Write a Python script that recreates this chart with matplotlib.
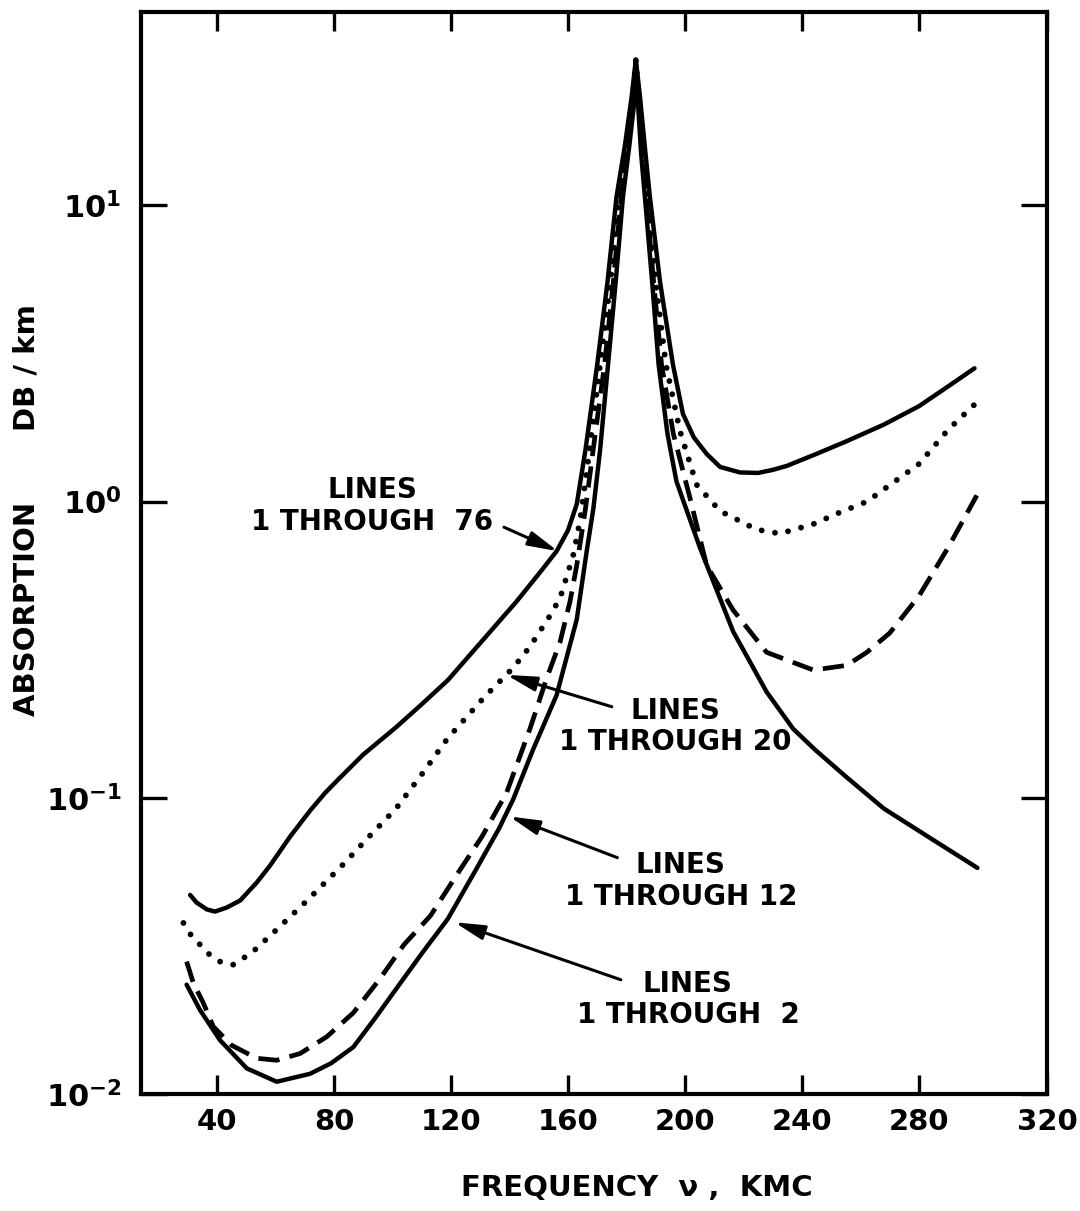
import matplotlib
matplotlib.use("Agg")
import matplotlib.pyplot as plt
from matplotlib.ticker import NullLocator

plt.rcParams["font.family"] = ["DejaVu Sans"]
plt.rcParams["font.weight"] = "bold"

# frequency (KMC) and absorption (DB/km)
freq_76 = [30.8, 33, 36.5, 39.3, 43.3, 47.9, 53.6, 58.1, 65, 72, 77, 81.7, 90, 101.2, 110,
           119.0, 130, 142.4, 150, 156.1, 160, 163, 166, 170, 173.5, 176.6, 179.5, 181.8,
           183.2, 184.6, 186.5, 188, 191.5, 195.9, 199.3, 203, 207.4, 212, 218.8, 225, 230,
           234.8, 245, 255.3, 268, 280, 290, 299]
abs_76 = [0.047, 0.0443, 0.042, 0.0413, 0.0426, 0.045, 0.0518, 0.059, 0.074, 0.091, 0.104,
          0.116, 0.140, 0.173, 0.207, 0.25, 0.333, 0.46, 0.57, 0.68, 0.80, 0.98, 1.5, 2.9,
          5.5, 10.7, 16, 23.4, 31, 23.4, 15, 10.7, 5.5, 2.9, 1.98, 1.65, 1.45, 1.31, 1.255,
          1.25, 1.28, 1.32, 1.45, 1.60, 1.82, 2.1, 2.45, 2.82]

freq_20 = [28.5, 31, 33.6, 37, 41.0, 45.4, 51.9, 60.4, 70.7, 83.2, 92, 101.2, 110, 118.9,
           131.6, 135.4, 141.3, 147, 153.3, 157.3, 161.8, 164.1, 167, 171, 174.5, 177.5,
           180, 182.2, 183.2, 184.2, 185.8, 187, 190, 193.5, 198.3, 204, 212, 224.5, 232.5,
           243.9, 253, 262.2, 280, 290, 301]
abs_20 = [0.0378, 0.0345, 0.0324, 0.0298, 0.028, 0.0273, 0.030, 0.0359, 0.0449, 0.0597,
          0.074, 0.092, 0.12, 0.159, 0.22, 0.24, 0.275, 0.324, 0.404, 0.472, 0.66, 0.86,
          1.4, 2.9, 5.5, 10.7, 16, 23.4, 31, 23.4, 15, 10.7, 5.5, 2.9, 1.73, 1.14, 0.93,
          0.805, 0.78, 0.84, 0.92, 1.0, 1.34, 1.75, 2.22]

freq_12 = [29.6, 31.9, 35.3, 38.7, 45, 53.6, 60.4, 68.4, 77.5, 86.6, 95.3, 104, 113, 122,
           130.6, 139, 147, 152.7, 157.3, 160.7, 163, 166, 169, 172.5, 175.5, 178.2, 180.5,
           182.5, 183.2, 184, 185.5, 186.7, 189.3, 192, 196, 201.7, 207.4, 216.5, 227.9,
           243.9, 255.3, 262.2, 270, 280, 290, 299.8]
abs_12 = [0.028, 0.0237, 0.0203, 0.0169, 0.0146, 0.0132, 0.013, 0.0137, 0.0156, 0.0188,
          0.0242, 0.032, 0.040, 0.055, 0.074, 0.104, 0.171, 0.253, 0.336, 0.46, 0.61, 0.95,
          1.6, 2.9, 5.5, 10.7, 16, 23.4, 31, 23.4, 15, 10.7, 5.5, 2.9, 1.7, 1.03, 0.61,
          0.43, 0.31, 0.27, 0.28, 0.31, 0.36, 0.48, 0.70, 1.05]

freq_2 = [29.6, 34.2, 41, 50.2, 60.4, 71.8, 79, 86.6, 94, 101.2, 110, 118.9, 128, 136.5,
          141.3, 148, 156.1, 163, 166.4, 168.7, 171, 173.7, 176.3, 178.8, 181, 182.9, 183.2,
          183.8, 185, 186.3, 188.8, 191, 194, 197.1, 205.1, 216.5, 227.9, 237, 244.6, 255,
          268, 284, 300]
abs_2 = [0.0234, 0.0192, 0.0152, 0.0122, 0.011, 0.0117, 0.0127, 0.0144, 0.018, 0.0226,
         0.0298, 0.039, 0.056, 0.079, 0.099, 0.145, 0.222, 0.40, 0.68, 0.95, 1.5, 2.9, 5.5,
         10.7, 16, 23.4, 31, 23.4, 15, 10.7, 5.5, 2.9, 1.7, 1.17, 0.70, 0.364, 0.228, 0.171,
         0.145, 0.118, 0.092, 0.073, 0.058]

x_ticks = [40, 80, 120, 160, 200, 240, 280, 323.8]
x_labels = ["40", "80", "120", "160", "200", "240", "280", "320"]
y_ticks = [0.01, 0.1, 1, 10]
y_labels = [r"$\mathbf{10^{-2}}$", r"$\mathbf{10^{-1}}$", r"$\mathbf{10^{0}}$", r"$\mathbf{10^{1}}$"]

fig = plt.figure(figsize=(10.8, 12.11), dpi=100)
ax = fig.add_axes([141 / 1080, 1 - 1094 / 1211, 906 / 1080, 1082 / 1211])

ax.plot(freq_76, abs_76, color="black", lw=3.2, solid_capstyle="round", solid_joinstyle="round")
ax.plot(freq_20, abs_20, color="black", lw=4.2, linestyle=(0, (0.01, 2.3)),
        dash_capstyle="round")
ax.plot(freq_12, abs_12, color="black", lw=3.4, linestyle=(0, (4.5, 2.2)),
        dash_capstyle="butt")
ax.plot(freq_2, abs_2, color="black", lw=3.2, solid_capstyle="round", solid_joinstyle="round")

ax.set_yscale("log")
ax.set_xlim(14, 323.8)
ax.set_ylim(0.01, 45)
ax.set_xticks(x_ticks)
ax.set_xticklabels(x_labels)
ax.set_yticks(y_ticks)
ax.set_yticklabels(y_labels)
ax.yaxis.set_minor_locator(NullLocator())
ax.xaxis.set_minor_locator(NullLocator())

ax.tick_params(axis="x", which="major", direction="in", top=True, length=14, width=2.4,
               labelsize=21, pad=10)
ax.tick_params(axis="y", which="major", direction="in", right=True, length=19, width=2.4,
               labelsize=22, pad=14)
for s in ax.spines.values():
    s.set_linewidth(3)

ax.set_xlabel("FREQUENCY  \u03bd ,  KMC", fontsize=21, fontweight="bold")
ax.xaxis.set_label_coords(0.547, -0.074)
ax.set_ylabel("ABSORPTION       DB / km", fontsize=21, fontweight="bold")
ax.yaxis.set_label_coords(-0.111, 0.54)

txt = dict(ha="center", va="center", fontsize=20, fontweight="bold", linespacing=1.15)
arrow = dict(arrowstyle="-|>,head_length=0.9,head_width=0.22", color="black", lw=2.2,
             mutation_scale=20, shrinkA=0, shrinkB=0)

ax.text(93, 0.966, "LINES\n1 THROUGH  76", **txt)
ax.annotate("", xy=(156.6, 0.68), xytext=(138.1, 0.82), arrowprops=arrow)

ax.text(196.6, 0.174, "LINES\n1 THROUGH 20", **txt)
ax.annotate("", xy=(139, 0.26), xytext=(175, 0.203), arrowprops=arrow)

ax.text(198.6, 0.0524, "LINES\n1 THROUGH 12", **txt)
ax.annotate("", xy=(140, 0.0865), xytext=(176.9, 0.0628), arrowprops=arrow)

ax.text(201, 0.0208, "LINES\n1 THROUGH  2", **txt)
ax.annotate("", xy=(121.2, 0.038), xytext=(178.1, 0.0243), arrowprops=arrow)

fig.savefig("out.png", dpi=100)
